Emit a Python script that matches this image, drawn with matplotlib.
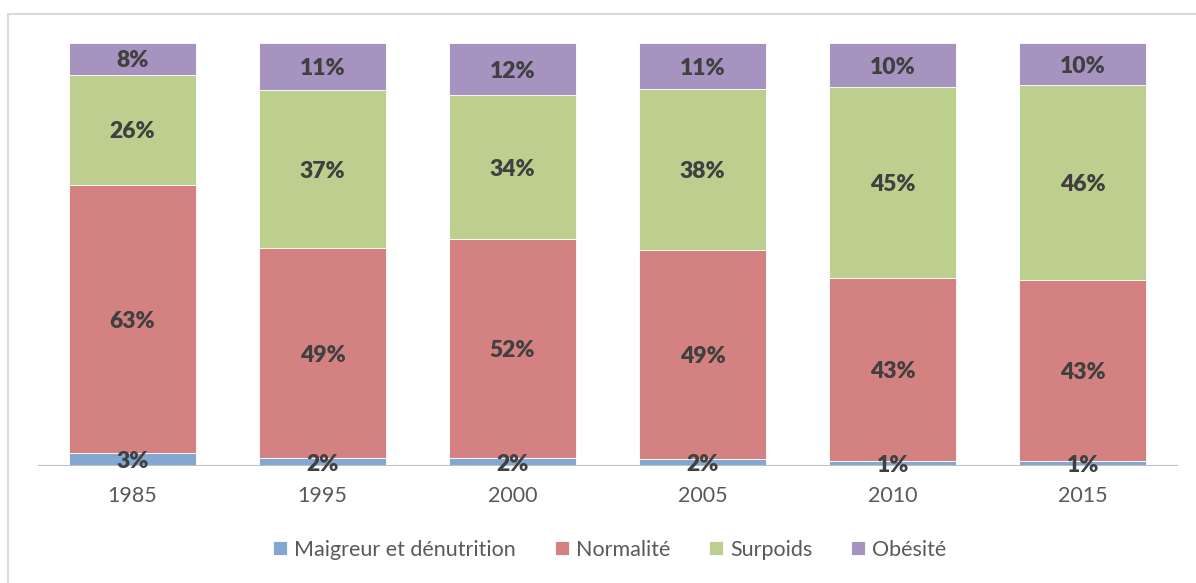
import matplotlib.pyplot as plt
import numpy as np

# Données (en %)
annees = ['1985', '1995', '2000', '2005', '2010', '2015']
maigreur = [3.1, 2.1, 1.9, 1.7, 1.2, 1.2]
normalite = [63.4, 49.4, 51.8, 49.4, 43.4, 42.8]
surpoids = [26.0, 37.4, 34.0, 38.0, 45.0, 46.1]
obesite = [7.5, 11.1, 12.3, 10.9, 10.4, 9.9]

series = ['Maigreur et dénutrition', 'Normalité', 'Surpoids', 'Obésité']
couleurs = ['#82a7d1', '#d48181', '#bccf8e', '#a693c0']

plt.rcParams['font.family'] = ['Lato', 'DejaVu Sans']

fig = plt.figure(figsize=(11.96, 5.83), dpi=100)
ax = fig.add_axes([0.0314, 0.2, 0.9532, 0.7263])

x = np.arange(len(annees))
valeurs = np.array([maigreur, normalite, surpoids, obesite])
bas = np.zeros(len(annees))
for vals, nom, c in zip(valeurs, series, couleurs):
    ax.bar(x, vals, 0.67, bottom=bas, color=c, label=nom,
           edgecolor='white', linewidth=0.6)
    for xi, b, v in zip(x, bas, vals):
        ax.text(xi, b + v / 2 - 0.5, f'{v:.0f}%', ha='center', va='center',
                fontsize=16.5, fontweight='heavy', color='#404040', zorder=6)
    bas += vals

ax.set_xlim(-0.5, len(annees) - 0.5)
ax.set_ylim(0, 100)
ax.axhline(0, color='#bfbfbf', lw=1.5, zorder=5)
for s in ax.spines.values():
    s.set_visible(False)
ax.set_yticks([])
ax.set_xticks(x)
ax.set_xticklabels(annees, fontsize=15.5, color='#595959')
ax.tick_params(axis='x', length=0, pad=14)

fig.legend(loc='center', bbox_to_anchor=(0.51, 0.057), ncol=4, frameon=False,
           fontsize=15.5, labelcolor='#595959', handlelength=0.65, handleheight=0.65,
           handletextpad=0.33, columnspacing=1.8)

# cadre du graphique
fig.add_artist(plt.Line2D([7.5 / 1196, 1.0], [1 - 13.5 / 583] * 2,
                          color='#d9d9d9', lw=1.5, transform=fig.transFigure))
fig.add_artist(plt.Line2D([7.5 / 1196] * 2, [0.0, 1 - 13.5 / 583],
                          color='#d9d9d9', lw=1.5, transform=fig.transFigure))

fig.savefig('out.png', dpi=100)
